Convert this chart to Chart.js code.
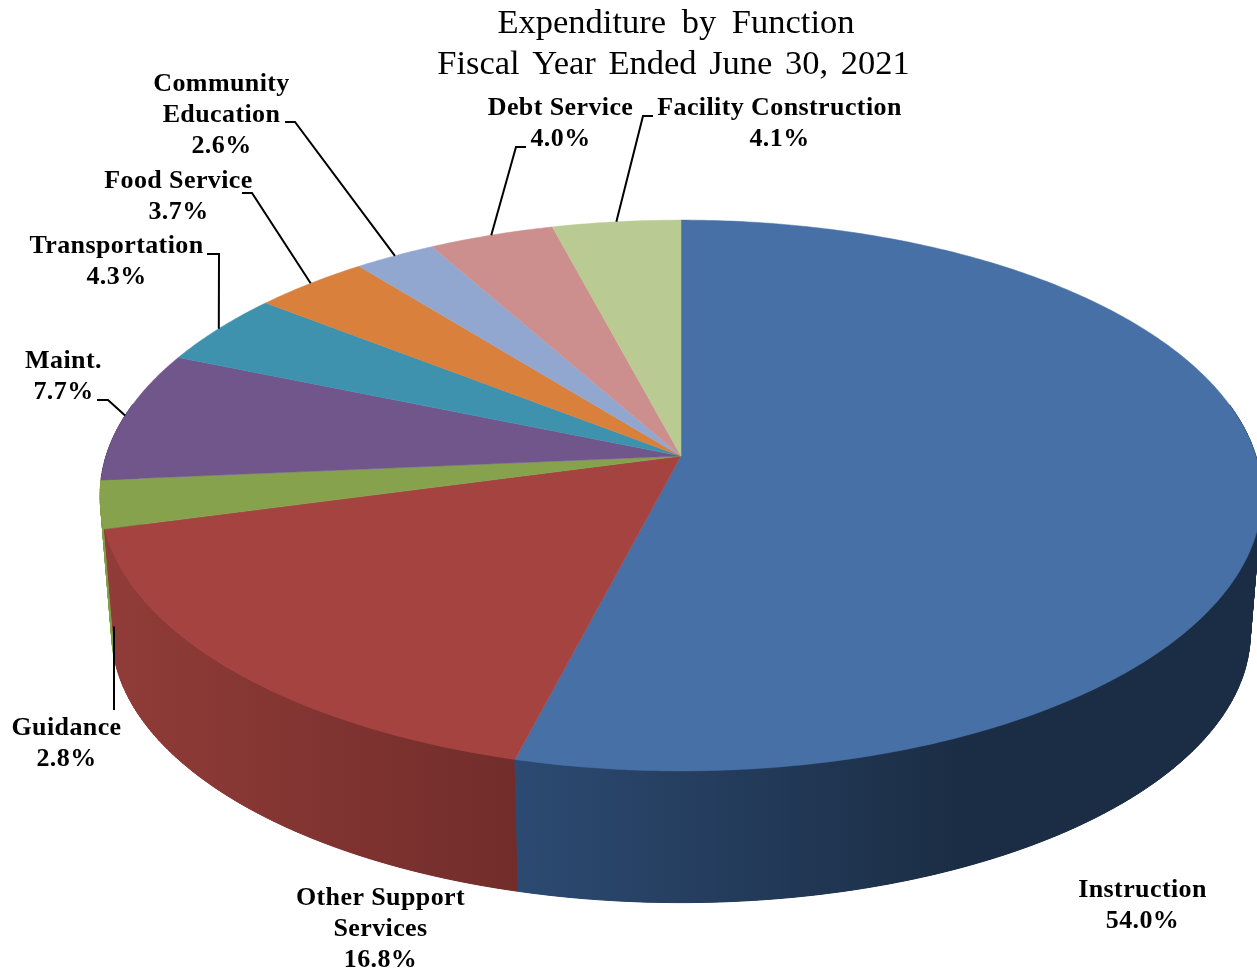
<!DOCTYPE html>
<html>
<head>
<meta charset="utf-8">
<title>Expenditure by Function</title>
<script src="https://cdn.jsdelivr.net/npm/chart.js@4"></script>
<style>
    html, body { margin: 0; padding: 0; background: #fff; }
    canvas { display: block; }
</style>
</head>
<body>
<canvas id="myChart" width="1257" height="975"></canvas>
<script>
const titleLines = ['Expenditure by Function', 'Fiscal Year Ended June 30, 2021'];
const categories = ['Instruction', 'Other Support Services', 'Guidance', 'Maint.', 'Transportation',
    'Food Service', 'Community Education', 'Debt Service', 'Facility Construction'];
const shares = [54.0, 16.8, 2.8, 7.7, 4.3, 3.7, 2.6, 4.0, 4.1];

const topColors = ['#4670a6', '#a54341', '#87a24d', '#71568b', '#3f92ae', '#d8803c', '#92a7cf', '#cd8f8e', '#b9ca93'];
// wall colours, left edge to right edge of each slice
const wallColors = [
    ['#2c4a72', '#1b2d44'], ['#913c38', '#722d2b'], ['#7f9f46', '#7f9f46'], ['#54406a', '#54406a'], ['#2f6e84', '#2f6e84'],
    ['#a8622c', '#a8622c'], ['#6f80a0', '#6f80a0'], ['#9c6c6c', '#9c6c6c'], ['#8d9a70', '#8d9a70']
];
// where along the slice's width the wall reaches its right-hand colour
const wallFadeEnd = [0.6, 1, 1, 1, 1, 1, 1, 1, 1];

// label placement: centre x and first baseline, name wrapped to lines
const labelLines = [['Instruction'], ['Other Support', 'Services'], ['Guidance'], ['Maint.'], ['Transportation'],
    ['Food Service'], ['Community', 'Education'], ['Debt Service'], ['Facility Construction']];
const labelX = [1142.5, 380.5, 66.5, 63.5, 116.5, 178.5, 221.5, 560.5, 779.5];
const labelY = [897, 905, 735, 368, 253, 188, 91, 115, 115];
const lineGap = 31;

// leader lines, label side first; the last point comes from the slice itself
const leaderPoints = [null, null, [[114, 710]], [[97, 400], [108, 400]], [[207, 254], [219, 254]],
    [[242, 193], [252, 193]], [[285, 122], [295, 122]], [[526, 147], [516, 147]], [[653, 116], [643, 116]]];
// how far down the side wall a leader lands (0 = top rim)
const leaderWallDepth = [0, 0, 0.89, 0, 0, 0, 0, 0, 0];

// tilt of the disc: widening, flattening and perspective of the unit circle
const widen = 2.436;
const flatten = 1.143;
const perspective = 0.1434;
const wallDrop = 138;
const wallShrink = 0.98;

function rimPoint(arc, angle, isLower) {
    const u = Math.cos(angle);
    const v = Math.sin(angle);
    const w = 1 - perspective * v;
    const s = isLower ? wallShrink : 1;
    return {
        x: arc.x + s * arc.outerRadius * widen * u / w,
        y: arc.y + (isLower ? wallDrop : 0) + s * arc.outerRadius * flatten * v / w
    };
}

function rimSteps(from, to) {
    return Math.max(4, Math.ceil(Math.abs(to - from) * 90));
}

class Arc3dElement extends Chart.ArcElement {
    static id = 'arc3d';

    draw(ctx) {
        const steps = rimSteps(this.startAngle, this.endAngle);
        ctx.save();
        ctx.beginPath();
        ctx.moveTo(this.x, this.y);
        for (let i = 0; i <= steps; i++) {
            const p = rimPoint(this, this.startAngle + (this.endAngle - this.startAngle) * i / steps, false);
            ctx.lineTo(p.x, p.y);
        }
        ctx.closePath();
        ctx.fillStyle = this.options.backgroundColor;
        ctx.strokeStyle = this.options.backgroundColor;
        ctx.lineWidth = 0.5;
        ctx.fill();
        ctx.stroke();
        ctx.restore();
    }

    drawWall(ctx, colors, fadeEnd) {
        const steps = rimSteps(this.startAngle, this.endAngle);
        const top = [];
        const low = [];
        for (let i = 0; i <= steps; i++) {
            const angle = this.startAngle + (this.endAngle - this.startAngle) * i / steps;
            // the far part of the wall is hidden behind the disc
            if (Math.sin(angle) < -0.2) continue;
            top.push(rimPoint(this, angle, false));
            low.push(rimPoint(this, angle, true));
        }
        if (top.length < 2) return;

        const xs = top.map(p => p.x);
        const grad = ctx.createLinearGradient(Math.min(...xs), 0, Math.max(...xs), 0);
        grad.addColorStop(0, colors[0]);
        grad.addColorStop(fadeEnd, colors[1]);
        grad.addColorStop(1, colors[1]);

        ctx.save();
        ctx.fillStyle = grad;
        ctx.strokeStyle = grad;
        ctx.lineWidth = 1;
        // quads per rim step join both rims at the sides of the silhouette
        for (let i = 0; i < top.length - 1; i++) {
            ctx.beginPath();
            ctx.moveTo(top[i].x, top[i].y);
            ctx.lineTo(top[i + 1].x, top[i + 1].y);
            ctx.lineTo(low[i + 1].x, low[i + 1].y);
            ctx.lineTo(low[i].x, low[i].y);
            ctx.closePath();
            ctx.fill();
            ctx.stroke();
        }
        // then the whole band in one fill, which covers the seams between quads
        ctx.beginPath();
        top.forEach(p => ctx.lineTo(p.x, p.y));
        low.reverse().forEach(p => ctx.lineTo(p.x, p.y));
        ctx.closePath();
        ctx.fill();
        ctx.restore();
    }
}

class Pie3dController extends Chart.PieController {
    static id = 'pie3d';
    static defaults = { dataElementType: 'arc3d' };

    draw() {
        const ctx = this.chart.ctx;
        const arcs = this.getMeta().data;
        // back to front, so the nearer walls cover the others
        for (let i = arcs.length - 1; i >= 0; i--) {
            arcs[i].drawWall(ctx, wallColors[i], wallFadeEnd[i]);
        }
        super.draw();
    }
}

Chart.register(Arc3dElement, Pie3dController);

const textPlugin = {
    id: 'pieText',
    afterDraw(chart) {
        const ctx = chart.ctx;
        const arcs = chart.getDatasetMeta(0).data;
        ctx.save();
        ctx.textAlign = 'center';
        ctx.textBaseline = 'alphabetic';
        ctx.fillStyle = '#000';

        ctx.font = '34.5px "Liberation Serif"';
        ctx.wordSpacing = '7px';
        ctx.fillText(titleLines[0], 676, 33);
        ctx.wordSpacing = '4px';
        ctx.fillText(titleLines[1], 673.5, 74);

        ctx.font = 'bold 26px "Liberation Serif"';
        ctx.letterSpacing = '0.4px';
        ctx.wordSpacing = '0px';
        categories.forEach((name, i) => {
            const lines = labelLines[i].concat(shares[i].toFixed(1) + '%');
            lines.forEach((line, n) => ctx.fillText(line, labelX[i], labelY[i] + n * lineGap));

            const points = leaderPoints[i];
            if (!points) return;
            const mid = (arcs[i].startAngle + arcs[i].endAngle) / 2;
            const top = rimPoint(arcs[i], mid, false);
            const low = rimPoint(arcs[i], mid, true);
            const d = leaderWallDepth[i];
            // a single-point leader is a plain vertical drop
            const endX = points.length === 1 ? points[0][0] : top.x + (low.x - top.x) * d;
            ctx.beginPath();
            points.forEach((p, n) => n ? ctx.lineTo(p[0], p[1]) : ctx.moveTo(p[0], p[1]));
            ctx.lineTo(endX, top.y + (low.y - top.y) * d);
            ctx.strokeStyle = '#000';
            ctx.lineWidth = 2;
            ctx.stroke();
        });
        ctx.restore();
    }
};

new Chart(document.getElementById('myChart').getContext('2d'), {
    type: 'pie3d',
    data: {
        labels: categories,
        datasets: [{ data: shares, backgroundColor: topColors, borderWidth: 0 }]
    },
    options: {
        responsive: false,
        animation: false,
        events: [],
        layout: { padding: { left: 445, right: 340, top: 220, bottom: 283 } },
        plugins: { legend: { display: false }, tooltip: { enabled: false } }
    },
    plugins: [textPlugin]
});
</script>
</body>
</html>
